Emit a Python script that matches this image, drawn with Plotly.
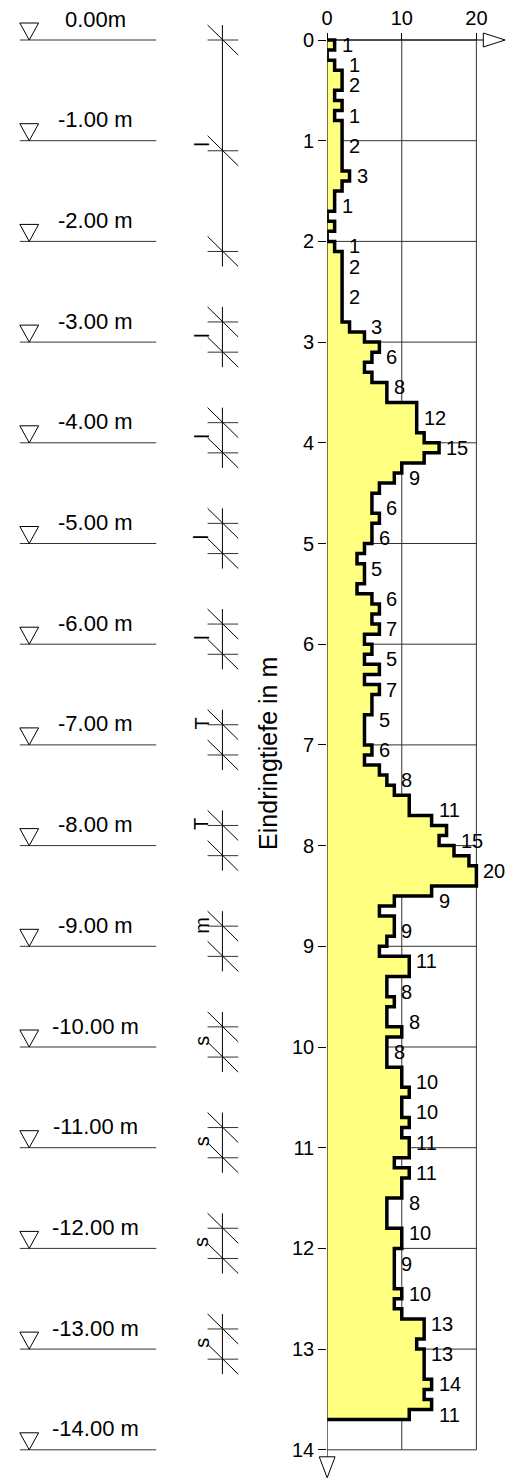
import plotly.graph_objects as go

# ---------------- data ----------------
W, H = 509, 1479
step = 0.1                      # depth interval per blow count [m]
blows = [1, 0, 1, 2, 2, 1, 2, 1, 2, 2,
         2, 2, 2, 3, 2, 1, 1, 0, 1, 0,
         1, 2, 2, 2, 2, 2, 2, 2, 3, 5,
         7, 6, 5, 6, 8, 8, 12, 12, 12, 13,
         15, 13, 10, 9, 7, 6, 6, 7, 6, 6,
         5, 4, 5, 5, 4, 6, 7, 6, 7, 5,
         6, 5, 7, 5, 7, 6, 6, 5, 5, 5,
         6, 5, 7, 8, 9, 11, 11, 14, 16, 15,
         17, 19, 20, 20, 14, 9, 7, 9, 9, 8,
         7, 11, 11, 8, 8, 9, 8, 8, 10, 8,
         8, 8, 10, 10, 11, 10, 10, 11, 10, 11,
         11, 9, 11, 10, 10, 8, 8, 8, 10, 10,
         9, 9, 9, 9, 10, 9, 10, 13, 13, 12,
         13, 13, 13, 14, 13, 14, 11]
label_idx = [0, 2, 4, 7, 10, 13, 16, 20, 22, 25, 28, 31, 34, 37, 40, 43, 46, 49,
             52, 55, 58, 61, 64, 67, 70, 73, 76, 79, 82, 85, 88, 91, 94, 97, 100,
             103, 106, 109, 112, 115, 118, 121, 124, 127, 130, 133, 136]
x_ticks = [0, 10, 20]
depth_ticks = list(range(15))
level_depths = list(range(15))
level_labels = ["0.00m"] + ["-%d.00 m" % k for k in range(1, 15)]
soil_groups = [[0.0, 1.1, 2.1], [2.8, 3.1], [3.8, 4.1], [4.8, 5.1], [5.8, 6.1],
               [6.8, 7.1], [7.8, 8.1], [8.8, 9.1], [9.8, 10.1], [10.8, 11.1],
               [11.8, 12.1], [12.8, 13.1]]
soil_codes = ["l", "l", "l", "l", "l", "T", "T", "m", "s", "s", "s", "s"]
soil_code_depths = [1.04, 2.94, 3.94, 4.94, 5.94, 6.79, 7.79, 8.79, 9.94, 10.94, 11.94, 12.94]
axis_title = "Eindringtiefe in m"

# ---------------- geometry ----------------
PX0, PPB = 325.0, 7.55      # pixel of 0 blows, pixels per blow
PY0, PPM = 40.0, 100.7      # pixel of depth 0, pixels per metre
FONT = "Liberation Sans, Arial, sans-serif"
GRID = "#333333"
YR = [(H - PY0) / PPM, -PY0 / PPM]

def dy(px):
    return px / PPM

def dx(px):
    return px / PPB

fig = go.Figure()

# grid lines (main plot)
gx, gy = [], []
for d in depth_ticks:
    gx += [x_ticks[0], x_ticks[-1], None]
    gy += [d, d, None]
for xv in x_ticks[1:]:
    gx += [xv, xv, None]
    gy += [depth_ticks[0], depth_ticks[-1], None]
fig.add_trace(go.Scatter(x=gx, y=gy, mode="lines", line=dict(color=GRID, width=1),
                         hoverinfo="skip", showlegend=False))

# step profile
n = len(blows)
end_depth = n * step
px_, py_ = [0], [0]
for i, v in enumerate(blows):
    px_ += [v, v]
    py_ += [i * step, (i + 1) * step]
px_ += [0]
py_ += [end_depth]
fig.add_trace(go.Scatter(x=px_, y=py_, mode="lines", fill="toself", fillcolor="#ffff80",
                         line=dict(width=0, color="#ffff80"), hoverinfo="skip", showlegend=False))
fig.add_trace(go.Scatter(x=px_, y=py_, mode="lines", line=dict(color="black", width=3.5),
                         hoverinfo="skip", showlegend=False))

# axis lines with arrow to the right
fig.add_trace(go.Scatter(x=[0, 0], y=[0, depth_ticks[-1] + dy(7)], mode="lines",
                         line=dict(color="black", width=1), hoverinfo="skip", showlegend=False))
fig.add_trace(go.Scatter(x=[0, x_ticks[-1] + dx(7)], y=[0, 0], mode="lines",
                         line=dict(color="black", width=1), hoverinfo="skip", showlegend=False))
ax0 = x_ticks[-1] + dx(7)
fig.add_trace(go.Scatter(x=[ax0, ax0 + dx(22), ax0, ax0], y=[-dy(7), 0, dy(7), -dy(7)],
                         mode="lines", line=dict(color="black", width=1),
                         hoverinfo="skip", showlegend=False))

annotations = []
for i in label_idx:
    nb = blows[max(i - 1, 0):i + 2]
    annotations.append(dict(x=max(nb), y=(i + 0.5) * step, xref="x", yref="y",
                            text=str(blows[i]), showarrow=False, xanchor="left",
                            yanchor="middle", xshift=5, font=dict(size=20, color="black",
                                                                   family=FONT)))

# ---------------- overlay in pixels (x2) / depth (y2) ----------------
# downward arrow at the bottom of the depth axis
ay0 = depth_ticks[-1] + dy(7)
fig.add_trace(go.Scatter(x=[PX0 - 8, PX0 + 8, PX0, PX0 - 8], y=[ay0, ay0, ay0 + dy(21), ay0],
                         xaxis="x2", yaxis="y2", mode="lines",
                         line=dict(color="black", width=1), hoverinfo="skip", showlegend=False))

tx, ty, lx, ly = [], [], [], []
for d in level_depths:
    tx += [14, 33, 23.5, 14, None]
    ty += [d - dy(17), d - dy(17), d, d - dy(17), None]
    lx += [14, 152, None]
    ly += [d, d, None]
fig.add_trace(go.Scatter(x=lx, y=ly, xaxis="x2", yaxis="y2", mode="lines",
                         line=dict(color=GRID, width=1), hoverinfo="skip", showlegend=False))
fig.add_trace(go.Scatter(x=tx, y=ty, xaxis="x2", yaxis="y2", mode="lines",
                         line=dict(color="black", width=1), hoverinfo="skip", showlegend=False))
for d, t in zip(level_depths, level_labels):
    annotations.append(dict(x=91, y=d - dy(21), xref="x2", yref="y2", text=t, showarrow=False,
                            xanchor="center", yanchor="middle",
                            font=dict(size=22, color="black", family=FONT)))

SX = 219
vx, vy, hx, hy, qx, qy = [], [], [], [], [], []
for g in soil_groups:
    vx += [SX, SX, None]
    vy += [g[0] - dy(15), g[-1] + dy(15), None]
    for c in g:
        hx += [SX - 15, SX + 16, None]
        hy += [c, c, None]
        qx += [SX - 15, SX + 16, None]
        qy += [c - dy(15), c + dy(15), None]
fig.add_trace(go.Scatter(x=vx, y=vy, xaxis="x2", yaxis="y2", mode="lines",
                         line=dict(color="black", width=1), hoverinfo="skip", showlegend=False))
fig.add_trace(go.Scatter(x=hx, y=hy, xaxis="x2", yaxis="y2", mode="lines",
                         line=dict(color=GRID, width=1), hoverinfo="skip", showlegend=False))
fig.add_trace(go.Scatter(x=qx, y=qy, xaxis="x2", yaxis="y2", mode="lines",
                         line=dict(color="black", width=1), hoverinfo="skip", showlegend=False))
for t, d in zip(soil_codes, soil_code_depths):
    annotations.append(dict(x=198, y=d, xref="x2", yref="y2", text=t, showarrow=False,
                            textangle=-90, xanchor="center", yanchor="middle",
                            font=dict(size=20, color="black", family=FONT)))

annotations.append(dict(x=265 / W, y=1 - 753 / H, xref="paper", yref="paper", text=axis_title,
                        showarrow=False, textangle=-90, xanchor="center", yanchor="middle",
                        font=dict(size=25, color="black", family=FONT)))

fig.update_layout(
    width=W, height=H, margin=dict(l=0, r=0, t=0, b=0),
    paper_bgcolor="white", plot_bgcolor="rgba(0,0,0,0)",
    showlegend=False,
    font=dict(family=FONT, size=20, color="black"),
    xaxis=dict(domain=[PX0 / W, 1], range=[0, (W - PX0) / PPB], side="top", anchor="free",
               position=1 - PY0 / H, tickmode="array", tickvals=x_ticks,
               ticktext=[str(v) for v in x_ticks], ticks="outside", ticklen=7,
               tickcolor="black", showgrid=False, zeroline=False, showline=False,
               tickfont=dict(size=20, family=FONT, color="black")),
    yaxis=dict(domain=[0, 1], range=YR, anchor="x", tickmode="array", tickvals=depth_ticks,
               ticktext=[str(v) for v in depth_ticks], ticks="outside", ticklen=8,
               tickcolor="black", showgrid=False, zeroline=False, showline=False,
               tickfont=dict(size=20, family=FONT, color="black")),
    xaxis2=dict(domain=[0, 1], range=[0, W], anchor="y2", visible=False),
    yaxis2=dict(domain=[0, 1], range=YR, anchor="x2", visible=False),
    annotations=annotations,
)

fig.write_html("out.html", config={"displayModeBar": False},
               post_script="document.body.style.margin='0px';"
                           "document.body.style.overflow='hidden';")
